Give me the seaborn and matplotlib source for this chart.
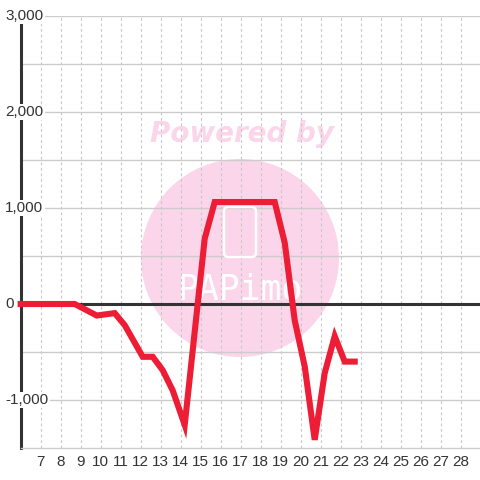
import matplotlib
matplotlib.use("Agg")
import matplotlib.pyplot as plt
import matplotlib.transforms as mtransforms
from matplotlib.patches import Circle, FancyBboxPatch
import seaborn as sns
import pandas as pd

# ---- data ----
hours = [6.0, 8.7, 9.8, 10.7, 11.2, 12.1, 12.6, 13.1, 13.6, 14.2, 15.2, 15.7,
         18.7, 19.2, 19.7, 20.2, 20.7, 21.2, 21.7, 22.2, 22.7]
values = [0, 0, -120, -95, -220, -550, -550, -690, -900, -1260, 680, 1062,
          1062, 640, -170, -650, -1415, -720, -335, -600, -600]
x_ticks = list(range(7, 29))
y_ticks = [-1000, 0, 1000, 2000, 3000]
y_tick_labels = ["-1,000", "0", "1,000", "2,000", "3,000"]
y_grid = [-1000, -500, 0, 500, 1000, 1500, 2000, 2500, 3000]

sns.set_theme(style="white")
plt.rcParams["font.family"] = ["Liberation Sans", "DejaVu Sans"]

fig = plt.figure(figsize=(4.8, 4.8), dpi=100)
ax = fig.add_axes([20.7 / 480, 32 / 480, 460 / 480, 432 / 480])
ax.set_xlim(6, 29)
ax.set_ylim(-1500, 3000)
ax.set_facecolor("white")

# watermark (behind the grid)
wm = Circle((240 / 480, 1 - 258 / 480), 99 / 480, transform=fig.transFigure,
            facecolor="#fbd5ea", edgecolor="none", zorder=0.1, clip_on=False)
ax.add_patch(wm)
phone = FancyBboxPatch((224 / 480, 1 - 257 / 480), 32 / 480, 50 / 480,
                       boxstyle="round,pad=0,rounding_size=0.009",
                       transform=fig.transFigure, facecolor="none",
                       edgecolor="white", linewidth=1.8, zorder=0.55, clip_on=False)
ax.add_patch(phone)
ax.text(240 / 480, 1 - 290 / 480, "PAPimo", transform=fig.transFigure,
        ha="center", va="center", color="white", fontsize=25,
        family="DejaVu Sans Mono", zorder=0.15)
ax.text(242 / 480, 1 - 134 / 480, "Powered by", transform=fig.transFigure,
        ha="center", va="center", color="#fbd5ea", fontsize=20,
        fontweight="bold", fontstyle="italic", family="DejaVu Sans", zorder=0.1)

# grid lines
for xv in x_ticks:
    ax.axvline(xv, color="#c8c8c8", linewidth=0.8, linestyle=(0, (2.5, 2.5)), zorder=0.5)
for yv in y_grid:
    if yv == 0:
        continue
    ax.axhline(yv, color="#cccccc", linewidth=1.0, zorder=0.5)
ax.axhline(0, color="#333333", linewidth=2.2, zorder=0.6)

# spines
for s in ["top", "right"]:
    ax.spines[s].set_visible(False)
ax.spines["left"].set_color("#333333")
ax.spines["left"].set_linewidth(2.2)
ax.spines["left"].set_zorder(0.7)
ax.spines["bottom"].set_color("#cccccc")
ax.spines["bottom"].set_linewidth(1.0)

# main line
df = pd.DataFrame({"hour": hours, "value": values})
sns.lineplot(data=df, x="hour", y="value", ax=ax, color="#ee1d36",
             linewidth=4.4, sort=False, zorder=3)
for ln in ax.get_lines()[-1:]:
    ln.set_solid_joinstyle("miter")
    ln.set_solid_capstyle("projecting")
    ln.set_clip_on(False)

ax.set_xlabel("")
ax.set_ylabel("")

# x ticks
ax.set_xticks(x_ticks)
ax.set_xticklabels([str(v) for v in x_ticks])
ax.tick_params(axis="x", length=0, pad=5, labelsize=11, labelcolor="#333333")

# y tick labels drawn as text with white boxes over the axis line
ax.set_yticks([])
trans = mtransforms.blended_transform_factory(fig.transFigure, ax.transData)
for yv, lab in zip(y_ticks, y_tick_labels):
    ax.text(5 / 480, yv, lab, transform=trans, ha="left", va="center",
            fontsize=11, color="#333333", zorder=10, clip_on=False,
            bbox=dict(facecolor="white", edgecolor="none", pad=1.0))

fig.savefig("out.png", dpi=100)
